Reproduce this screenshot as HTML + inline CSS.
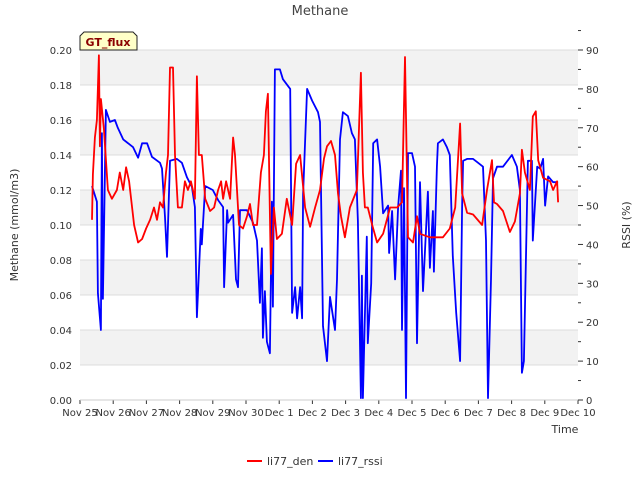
<!DOCTYPE html>
<html><head><meta charset="utf-8"><style>
body{margin:0;background:#fff;font-family:"Liberation Sans","DejaVu Sans",sans-serif;}
svg text{font-family:"DejaVu Sans","Liberation Sans",sans-serif;}
</style></head><body>
<svg id="chart" width="640" height="480" xmlns="http://www.w3.org/2000/svg">
<text x="320" y="15" text-anchor="middle" font-size="13" fill="#444">Methane</text>
<g id="bands"></g><g id="grid"></g><g id="series"></g><g id="axes"></g>
<text x="565" y="433" text-anchor="middle" font-size="11" fill="#333">Time</text>
<text transform="translate(18,225) rotate(-90)" text-anchor="middle" font-size="11" fill="#333">Methane (mmol/m3)</text>
<text transform="translate(630,225) rotate(-90)" text-anchor="middle" font-size="11" fill="#333">RSSI (%)</text>
<g>
<path d="M80,50 L80,36 L84,32 L133,32 L137,36 L137,50 Z" fill="#ffffc8" stroke="#222" stroke-width="1"/>
<text x="108" y="46" text-anchor="middle" font-size="11" font-weight="bold" fill="#8b0000">GT_flux</text>
</g>
<g>
<g><line x1="247" y1="461" x2="262" y2="461" stroke="#f00" stroke-width="2"/><text x="267" y="465" font-size="11" fill="#333">li77_den</text></g>
<g><line x1="318" y1="461" x2="333" y2="461" stroke="#00f" stroke-width="2"/><text x="338" y="465" font-size="11" fill="#333">li77_rssi</text></g>
</g>
</svg>
<script>
const xTickLabels=["Nov 25","Nov 26","Nov 27","Nov 28","Nov 29","Nov 30","Dec 1","Dec 2","Dec 3","Dec 4","Dec 5","Dec 6","Dec 7","Dec 8","Dec 9","Dec 10"];
const yLeftTicks=[0,0.02,0.04,0.06,0.08,0.10,0.12,0.14,0.16,0.18,0.20];
const yRightTicks=[0,10,20,30,40,50,60,70,80,90];
const denDays=[0.36,0.39,0.45,0.51,0.57,0.60,0.63,0.72,0.84,0.96,1.11,1.2,1.3,1.39,1.48,1.63,1.75,1.87,1.99,2.11,2.23,2.32,2.41,2.5,2.59,2.65,2.71,2.8,2.86,2.95,3.07,3.16,3.25,3.34,3.46,3.52,3.58,3.67,3.77,3.92,4.04,4.16,4.25,4.31,4.4,4.52,4.61,4.67,4.79,4.91,5.03,5.12,5.21,5.33,5.45,5.54,5.6,5.66,5.75,5.84,5.93,6.08,6.23,6.39,6.51,6.63,6.78,6.93,7.08,7.23,7.35,7.44,7.56,7.68,7.77,7.86,7.98,8.13,8.34,8.46,8.52,8.58,8.67,8.8,8.95,9.13,9.34,9.55,9.7,9.79,9.88,10.03,10.15,10.24,10.54,10.93,11.14,11.3,11.45,11.51,11.66,11.84,12.11,12.26,12.41,12.47,12.56,12.74,12.95,13.1,13.25,13.31,13.4,13.55,13.64,13.73,13.8,13.95,14.16,14.25,14.37,14.4];
const denValues=[0.103,0.129,0.15,0.16,0.197,0.145,0.172,0.155,0.12,0.115,0.12,0.13,0.12,0.133,0.125,0.10,0.09,0.092,0.098,0.103,0.11,0.103,0.113,0.11,0.13,0.14,0.19,0.19,0.14,0.11,0.11,0.125,0.12,0.125,0.115,0.185,0.14,0.14,0.115,0.108,0.11,0.12,0.125,0.115,0.125,0.115,0.15,0.14,0.10,0.098,0.105,0.112,0.10,0.10,0.13,0.14,0.165,0.175,0.072,0.11,0.092,0.095,0.115,0.10,0.135,0.14,0.11,0.099,0.11,0.12,0.138,0.145,0.148,0.14,0.118,0.105,0.093,0.11,0.12,0.187,0.13,0.11,0.11,0.10,0.09,0.095,0.11,0.11,0.113,0.196,0.093,0.09,0.105,0.095,0.093,0.093,0.098,0.11,0.158,0.118,0.107,0.106,0.10,0.12,0.137,0.113,0.112,0.108,0.096,0.102,0.118,0.143,0.13,0.12,0.162,0.165,0.137,0.127,0.125,0.12,0.125,0.113];
const rssiDays=[0.36,0.51,0.54,0.63,0.66,0.69,0.78,0.9,1.05,1.14,1.3,1.6,1.75,1.87,2.02,2.17,2.41,2.47,2.56,2.62,2.71,2.92,3.07,3.22,3.37,3.46,3.52,3.64,3.67,3.77,4.0,4.16,4.31,4.34,4.43,4.46,4.61,4.7,4.76,4.82,5.03,5.21,5.33,5.42,5.48,5.51,5.57,5.63,5.72,5.78,5.81,5.87,6.02,6.11,6.33,6.39,6.48,6.54,6.63,6.69,6.72,6.84,6.99,7.17,7.23,7.32,7.44,7.53,7.68,7.74,7.83,7.92,8.07,8.19,8.28,8.37,8.46,8.49,8.52,8.64,8.67,8.77,8.83,8.95,9.04,9.13,9.28,9.31,9.4,9.49,9.58,9.67,9.7,9.76,9.82,9.88,10.0,10.09,10.15,10.24,10.33,10.48,10.54,10.63,10.66,10.75,10.78,10.93,11.05,11.14,11.23,11.33,11.45,11.51,11.54,11.66,11.84,11.99,12.14,12.23,12.29,12.38,12.44,12.56,12.74,13.01,13.16,13.25,13.31,13.37,13.49,13.61,13.64,13.77,13.86,13.95,14.01,14.1,14.25,14.4];
const rssiValues=[55,51,27.5,18,68.6,26,74.6,71.5,72,70,67,65,62.3,66,66,62.5,61,59.5,47,36.8,61.5,62,61,57.3,54.8,49.6,21.3,44,40,55,54,51.4,49.6,29,48.8,45.6,47.6,31,29,48.8,48.8,45.6,41,25,39,16,28,15,12,51,24,85,85,82.5,80,22.4,29,21,29,21,53,80,77,74,71.5,19,10,26.5,18,31,67,74,73,68.6,67,46,0.5,32,0.5,42,14.6,30,66,67,60,48,50,37.8,48.6,31,49.6,59,18,54.5,0.5,63.5,63.5,60,14.6,56,28,53.6,34,48.6,33,60,66,67,65,63,37,22.4,10,49.6,61.5,62,62,61,60,41,0.5,31,57,60,60,63,60,54,7,10,61.5,61.5,41,60,59.5,62,50,57.5,56,56];

const NS="http://www.w3.org/2000/svg";
const L=80,R=578,T=50,B=400;
const xs=d=>L+d*(R-L)/15;
const yl=v=>B-v/0.2*(B-T);
const yr=v=>B-v/90*(B-T);
function mk(tag,attrs,parent){const e=document.createElementNS(NS,tag);for(const k in attrs)e.setAttribute(k,attrs[k]);parent.appendChild(e);return e;}
const bands=document.getElementById('bands'),grid=document.getElementById('grid'),series=document.getElementById('series'),axes=document.getElementById('axes');
for(let i=0;i<yLeftTicks.length-1;i++){
  if(i%2===1){const b=mk('rect',{x:L,y:yl(yLeftTicks[i+1]),width:R-L,height:yl(yLeftTicks[i])-yl(yLeftTicks[i+1]),fill:'#f2f2f2'},bands);
  
  }
}
yLeftTicks.forEach(v=>{
  const g=mk('line',{x1:L,x2:R,y1:yl(v),y2:yl(v),stroke:'#dcdcdc','stroke-width':1},grid);
  
  
  const t=mk('text',{x:L-8,y:yl(v)+4,'text-anchor':'end','font-size':10,fill:'#333'},axes);
  t.textContent=v.toFixed(2);
  
  
});
yRightTicks.forEach(v=>{
  mk('line',{x1:R,x2:R+5,y1:yr(v),y2:yr(v),stroke:'#333'},axes);
  mk('line',{x1:R,x2:R+3,y1:yr(v+5),y2:yr(v+5),stroke:'#333'},axes);
  const t=mk('text',{x:R+8,y:yr(v)+4,'font-size':10,fill:'#333'},axes);
  t.textContent=v;
  
  
});
xTickLabels.forEach((s,i)=>{
  mk('line',{x1:xs(i),x2:xs(i),y1:B,y2:B+4,stroke:'#333'},axes);
  const t=mk('text',{x:xs(i),y:B+16,'text-anchor':'middle','font-size':10,fill:'#333'},axes);
  t.textContent=s;
  
  
});
mk('line',{x1:L,x2:R,y1:B,y2:B,stroke:'#ccc'},axes);
function path(days,vals,f,color,name){
  const d=days.map((x,i)=>(i?'L':'M')+xs(x).toFixed(1)+','+f(vals[i]).toFixed(1)).join(' ');
  const p=mk('path',{d:d,fill:'none',stroke:color,'stroke-width':1.8,'stroke-linejoin':'round'},series);
  
  
}
path(rssiDays,rssiValues,yr,'#0000ff','li77-rssi-line');
path(denDays,denValues,yl,'#ff0000','li77-den-line');
</script>
</body></html>
